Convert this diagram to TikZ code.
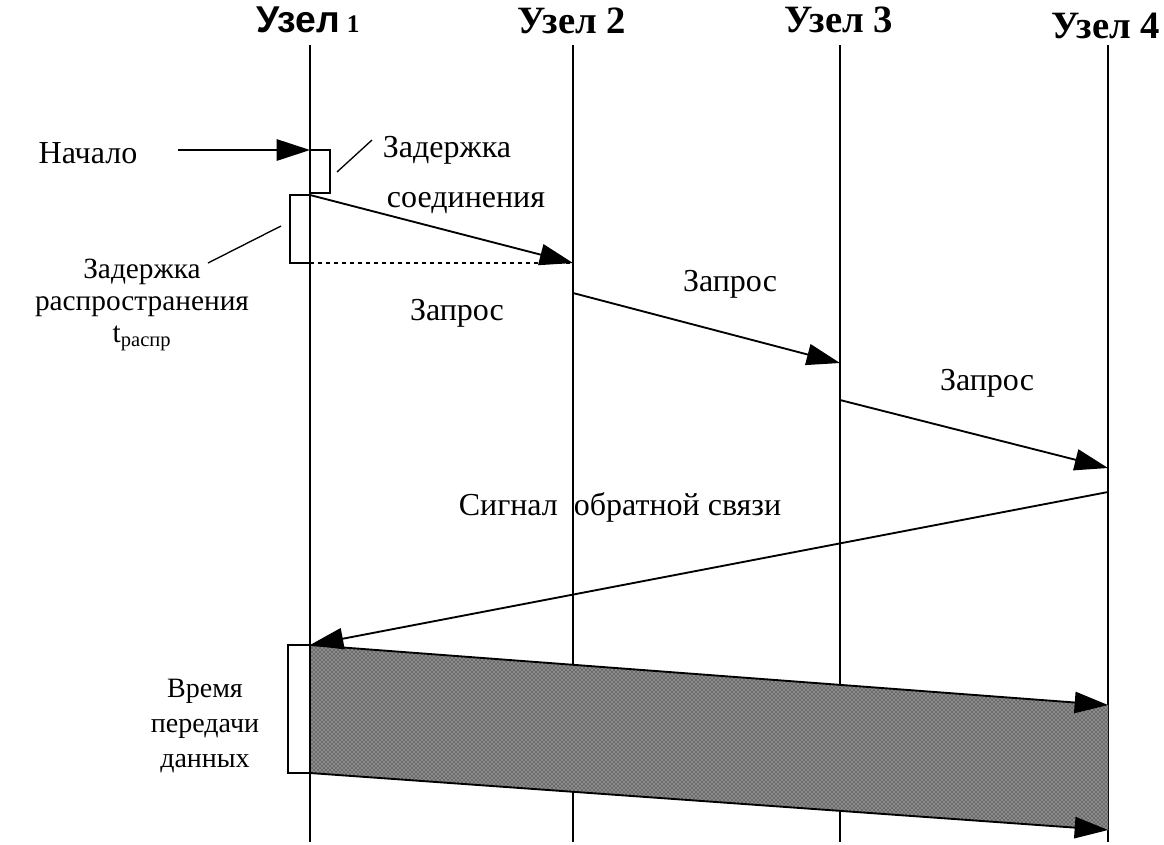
\documentclass[tikz,border=0pt]{standalone}
\usepackage{fontspec}
\setmainfont{Liberation Serif}
\newfontfamily\headsans{Liberation Sans}
\usepackage{tikz}
\usetikzlibrary{arrows.meta,positioning,patterns}
\definecolor{ink}{RGB}{0,0,0}
\tikzset{
  lane/.style={ink, line width=1.4pt},
  msg/.style={-{Triangle[length=25pt,width=16pt]}, ink, line width=1.4pt},
  delay/.style={draw=ink, line width=1.4pt, fill=white},
  leader/.style={ink, line width=1pt},
  label/.style={font=\fontsize{24}{26}\selectfont, align=center, inner sep=0pt, text=ink},
  note/.style={label, font=\fontsize{21}{26}\selectfont},
  head/.style={font=\fontsize{29}{32}\selectfont\bfseries, inner sep=0pt, text=ink},
}
\begin{document}
\begin{tikzpicture}[x=0.75pt, y=-0.75pt]
  \useasboundingbox (0,0) rectangle (1164,844);
  % lanes
  \foreach \x/\n in {310/1,573/2,840/3,1108/4}{
    \coordinate (top\n) at (\x,45);
    \coordinate (bot\n) at (\x,842);
    \draw[lane] (top\n) -- (bot\n);
  }
  \node[head, anchor=base] (h1) at (308,32) {{\headsans\fontsize{28}{30}\selectfont Узел}\,{\fontsize{19}{22}\selectfont 1}};
  \node[head, anchor=base] (h2) at (572,33) {Узел 2};
  \node[head, anchor=base] (h3) at (839,32) {Узел 3};
  \node[head, anchor=base] (h4) at (1106,38) {Узел 4};

  % events
  \coordinate (begin) at (178,150);
  \coordinate (n1start) at (310,150);
  \coordinate (n1send) at (310,195);
  \coordinate (n1prop) at (310,263);
  \coordinate (n2recv) at (573,263);
  \coordinate (n2send) at (573,293);
  \coordinate (n3recv) at (840,363);
  \coordinate (n3send) at (840,400);
  \coordinate (n4recv) at (1108,468);
  \coordinate (n4send) at (1108,492);
  \coordinate (n1ack) at (310,645);
  \coordinate (n1last) at (310,773);
  \coordinate (n4first) at (1108,705);
  \coordinate (n4last) at (1108,830);

  % data block
  \fill[black!45] (n1ack) -- (n4first) -- (n4last) -- (n1last) -- cycle;
  \fill[pattern=crosshatch dots, pattern color=black] (n1ack) -- (n4first) -- (n4last) -- (n1last) -- cycle;
  \draw[msg] (n1ack) -- (n4first);
  \draw[msg] (n1last) -- (n4last);

  % delays
  \draw[delay] (n1start) rectangle (330,193);
  \draw[delay] (290,195) rectangle (n1prop);
  \draw[delay] (288,645) rectangle (n1last);
  \draw[lane] (top1) -- (bot1);

  % messages
  \draw[msg] (begin) -- (n1start);
  \draw[msg] (n1send) -- (n2recv);
  \draw[ink, line width=1pt, dashed] (n1prop) -- (n2recv);
  \draw[msg] (n2send) -- (n3recv);
  \draw[msg] (n3send) -- (n4recv);
  \draw[msg] (n4send) -- (n1ack);

  % leaders
  \coordinate (cdA) at (337,172);
  \coordinate (cdB) at (372,140);
  \coordinate (pdA) at (281,226);
  \coordinate (pdB) at (208,263);
  \draw[leader] (cdA) -- (cdB);
  \draw[leader] (pdA) -- (pdB);

  % texts
  \node[label] (start) at (88,153) {Начало};
  \node[label] (cd1) at (447,150) {Задержка};
  \node[label] (cd2) at (466,203) {соединения};
  \node[note, font=\fontsize{22}{24}\selectfont] (pd) at (142,305) {Задержка\\распространения\\t\textsubscript{распр}};
  \node[label] (q1) at (457,313) {Запрос};
  \node[label] (q2) at (730,284) {Запрос};
  \node[label] (q3) at (987,383) {Запрос};
  \node[label] (fb) at (620,507) {Сигнал\ \ обратной связи};
  \node[note] (tx) at (205,726) {Время\\передачи\\данных};
\end{tikzpicture}
\end{document}
